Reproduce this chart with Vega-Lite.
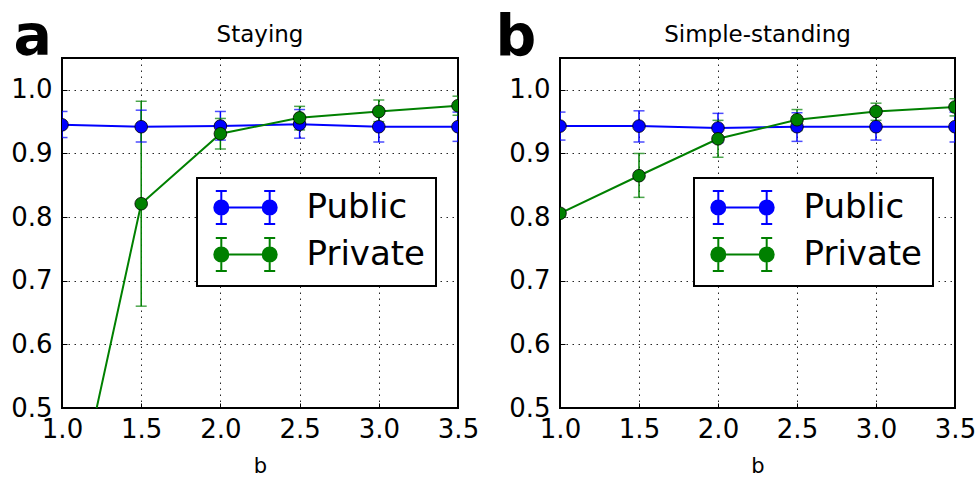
{
  "$schema": "https://vega.github.io/schema/vega-lite/v6.json",
  "padding": {"left": 9, "top": 7, "right": 5, "bottom": 0},
  "background": "white",
  "datasets": {
    "staying": [
      {"series": "Public", "b": 1.0, "y": 0.945, "lo": 0.925, "hi": 0.966},
      {"series": "Public", "b": 1.5, "y": 0.942, "lo": 0.918, "hi": 0.968},
      {"series": "Public", "b": 2.0, "y": 0.943, "lo": 0.921, "hi": 0.966},
      {"series": "Public", "b": 2.5, "y": 0.946, "lo": 0.924, "hi": 0.969},
      {"series": "Public", "b": 3.0, "y": 0.942, "lo": 0.918, "hi": 0.965},
      {"series": "Public", "b": 3.5, "y": 0.942, "lo": 0.919, "hi": 0.965},
      {"series": "Private", "b": 1.0, "y": 0.25, "lo": null, "hi": null},
      {"series": "Private", "b": 1.5, "y": 0.821, "lo": 0.66, "hi": 0.982},
      {"series": "Private", "b": 2.0, "y": 0.931, "lo": 0.907, "hi": 0.955},
      {"series": "Private", "b": 2.5, "y": 0.956, "lo": 0.937, "hi": 0.974},
      {"series": "Private", "b": 3.0, "y": 0.966, "lo": 0.95, "hi": 0.984},
      {"series": "Private", "b": 3.5, "y": 0.975, "lo": 0.96, "hi": 0.99}
    ],
    "simple": [
      {"series": "Public", "b": 1.0, "y": 0.943, "lo": 0.921, "hi": 0.965},
      {"series": "Public", "b": 1.5, "y": 0.943, "lo": 0.918, "hi": 0.967},
      {"series": "Public", "b": 2.0, "y": 0.94, "lo": 0.917, "hi": 0.963},
      {"series": "Public", "b": 2.5, "y": 0.942, "lo": 0.919, "hi": 0.964},
      {"series": "Public", "b": 3.0, "y": 0.942, "lo": 0.921, "hi": 0.963},
      {"series": "Public", "b": 3.5, "y": 0.942, "lo": 0.918, "hi": 0.965},
      {"series": "Private", "b": 1.0, "y": 0.806, "lo": 0.8, "hi": 0.812},
      {"series": "Private", "b": 1.5, "y": 0.865, "lo": 0.831, "hi": 0.9},
      {"series": "Private", "b": 2.0, "y": 0.923, "lo": 0.894, "hi": 0.952},
      {"series": "Private", "b": 2.5, "y": 0.953, "lo": 0.936, "hi": 0.969},
      {"series": "Private", "b": 3.0, "y": 0.966, "lo": 0.952, "hi": 0.979},
      {"series": "Private", "b": 3.5, "y": 0.973, "lo": 0.959, "hi": 0.986}
    ]
  },
  "config": {
    "font": "DejaVu Sans",
    "view": {"stroke": "black", "strokeWidth": 2},
    "axis": {
      "domain": false,
      "ticks": true,
      "tickSize": -5,
      "tickColor": "black",
      "tickWidth": 1,
      "grid": true,
      "gridColor": "black",
      "gridDash": [1.5, 4.5],
      "gridWidth": 1,
      "gridOpacity": 0.85,
      "labelFont": "DejaVu Sans",
      "labelFontSize": 26,
      "labelColor": "black",
      "labelFlush": false,
      "labelOverlap": false,
      "titleFont": "DejaVu Sans",
      "titleColor": "black",
      "titleFontWeight": "normal"
    },
    "title": {"font": "DejaVu Sans", "fontSize": 23, "fontWeight": "normal", "color": "black", "anchor": "middle", "frame": "group", "offset": -39}
  },
  "bounds": "flush",
  "spacing": 102,
  "resolve": {"scale": {"color": "independent", "fill": "independent"}, "legend": {"color": "independent"}},
  "hconcat": [
    {
      "data": {"name": "staying"},
      "width": 396,
      "height": 350,
      "title": "Staying",
      "encoding": {
        "x": {"field": "b", "type": "quantitative",
          "scale": {"domain": [1, 3.5], "nice": false, "zero": false},
          "axis": {"values": [1, 1.5, 2, 2.5, 3, 3.5], "format": ".1f", "labelPadding": 13, "title": "b", "titleFontSize": 21, "titlePadding": 13}}
      },
      "layer": [
        {
          "mark": {"type": "rule", "strokeWidth": 1.5, "clip": true},
          "encoding": {
            "y": {"field": "lo", "type": "quantitative",
              "scale": {"domain": [0.5, 1.05], "nice": false, "zero": false},
              "axis": {"values": [0.5, 0.6, 0.7, 0.8, 0.9, 1.0], "format": ".1f", "labelPadding": 15,
                "title": "a", "titleFontSize": 57, "titleFontWeight": "bold", "titleAngle": 0, "titleAlign": "left", "titleBaseline": "alphabetic", "titleX": -49, "titleY": -4}},
            "y2": {"field": "hi"},
            "color": {"field": "series", "type": "nominal",
              "scale": {"domain": ["Public", "Private"], "range": ["#0000ff", "#008000"]},
              "legend": {
                "orient": "none", "legendX": 135, "legendY": 120, "title": null,
                "symbolType": "M-1.344,0L1.344,0M-1.344,-0.917L-1.344,0.917M-1.65,-0.917L-1.038,-0.917M-1.65,0.917L-1.038,0.917M1.344,-0.917L1.344,0.917M1.038,-0.917L1.65,-0.917M1.038,0.917L1.65,0.917M-0.955,0A0.389,0.389,0,1,1,-1.733,0A0.389,0.389,0,1,1,-0.955,0ZM1.733,0A0.389,0.389,0,1,1,0.955,0A0.389,0.389,0,1,1,1.733,0Z",
                "symbolSize": 1296, "symbolStrokeWidth": 2, "symbolOffset": 19,
                "labelFont": "DejaVu Sans", "labelFontSize": 34, "labelColor": "black", "labelOffset": 42, "labelLimit": 0,
                "strokeColor": "black", "fillColor": "white", "padding": 10.5, "rowPadding": 5,
                "encode": {"symbols": {"update": {
                  "fill": [{"test": "datum.value === 'Public'", "value": "#0000ff"}, {"value": "#008000"}],
                  "stroke": [{"test": "datum.value === 'Public'", "value": "#0000ff"}, {"value": "#008000"}],
                  "strokeWidth": {"value": 2},
                  "opacity": {"value": 1}
                }}, "legend": {"update": {"strokeWidth": {"value": 2}}}}
              }}
          }
        },
        {
          "mark": {"type": "tick", "orient": "horizontal", "size": 11, "thickness": 1.5, "clip": true},
          "encoding": {"y": {"field": "lo", "type": "quantitative"}, "color": {"field": "series", "type": "nominal"}}
        },
        {
          "mark": {"type": "tick", "orient": "horizontal", "size": 11, "thickness": 1.5, "clip": true},
          "encoding": {"y": {"field": "hi", "type": "quantitative"}, "color": {"field": "series", "type": "nominal"}}
        },
        {
          "mark": {"type": "line", "strokeWidth": 2, "clip": true},
          "encoding": {"y": {"field": "y", "type": "quantitative"}, "color": {"field": "series", "type": "nominal"}}
        },
        {
          "mark": {"type": "point", "shape": "circle", "filled": true, "size": 160, "stroke": "black", "strokeWidth": 0.8, "opacity": 1, "clip": true},
          "encoding": {"y": {"field": "y", "type": "quantitative"},
            "fill": {"field": "series", "type": "nominal", "scale": {"domain": ["Public", "Private"], "range": ["#0000ff", "#008000"]}, "legend": null}}
        }
      ]
    },
    {
      "data": {"name": "simple"},
      "width": 395,
      "height": 350,
      "title": "Simple-standing",
      "encoding": {
        "x": {"field": "b", "type": "quantitative",
          "scale": {"domain": [1, 3.5], "nice": false, "zero": false},
          "axis": {"values": [1, 1.5, 2, 2.5, 3, 3.5], "format": ".1f", "labelPadding": 13, "title": "b", "titleFontSize": 21, "titlePadding": 13}}
      },
      "layer": [
        {
          "mark": {"type": "rule", "strokeWidth": 1.5, "clip": true},
          "encoding": {
            "y": {"field": "lo", "type": "quantitative",
              "scale": {"domain": [0.5, 1.05], "nice": false, "zero": false},
              "axis": {"values": [0.5, 0.6, 0.7, 0.8, 0.9, 1.0], "format": ".1f", "labelPadding": 15,
                "title": "b", "titleFontSize": 57, "titleFontWeight": "bold", "titleAngle": 0, "titleAlign": "left", "titleBaseline": "alphabetic", "titleX": -65, "titleY": -4}},
            "y2": {"field": "hi"},
            "color": {"field": "series", "type": "nominal",
              "scale": {"domain": ["Public", "Private"], "range": ["#0000ff", "#008000"]},
              "legend": {
                "orient": "none", "legendX": 134, "legendY": 120, "title": null,
                "symbolType": "M-1.344,0L1.344,0M-1.344,-0.917L-1.344,0.917M-1.65,-0.917L-1.038,-0.917M-1.65,0.917L-1.038,0.917M1.344,-0.917L1.344,0.917M1.038,-0.917L1.65,-0.917M1.038,0.917L1.65,0.917M-0.955,0A0.389,0.389,0,1,1,-1.733,0A0.389,0.389,0,1,1,-0.955,0ZM1.733,0A0.389,0.389,0,1,1,0.955,0A0.389,0.389,0,1,1,1.733,0Z",
                "symbolSize": 1296, "symbolStrokeWidth": 2, "symbolOffset": 19,
                "labelFont": "DejaVu Sans", "labelFontSize": 34, "labelColor": "black", "labelOffset": 42, "labelLimit": 0,
                "strokeColor": "black", "fillColor": "white", "padding": 10.5, "rowPadding": 5,
                "encode": {"symbols": {"update": {
                  "fill": [{"test": "datum.value === 'Public'", "value": "#0000ff"}, {"value": "#008000"}],
                  "stroke": [{"test": "datum.value === 'Public'", "value": "#0000ff"}, {"value": "#008000"}],
                  "strokeWidth": {"value": 2},
                  "opacity": {"value": 1}
                }}, "legend": {"update": {"strokeWidth": {"value": 2}}}}
              }}
          }
        },
        {
          "mark": {"type": "tick", "orient": "horizontal", "size": 11, "thickness": 1.5, "clip": true},
          "encoding": {"y": {"field": "lo", "type": "quantitative"}, "color": {"field": "series", "type": "nominal"}}
        },
        {
          "mark": {"type": "tick", "orient": "horizontal", "size": 11, "thickness": 1.5, "clip": true},
          "encoding": {"y": {"field": "hi", "type": "quantitative"}, "color": {"field": "series", "type": "nominal"}}
        },
        {
          "mark": {"type": "line", "strokeWidth": 2, "clip": true},
          "encoding": {"y": {"field": "y", "type": "quantitative"}, "color": {"field": "series", "type": "nominal"}}
        },
        {
          "mark": {"type": "point", "shape": "circle", "filled": true, "size": 160, "stroke": "black", "strokeWidth": 0.8, "opacity": 1, "clip": true},
          "encoding": {"y": {"field": "y", "type": "quantitative"},
            "fill": {"field": "series", "type": "nominal", "scale": {"domain": ["Public", "Private"], "range": ["#0000ff", "#008000"]}, "legend": null}}
        }
      ]
    }
  ]
}
